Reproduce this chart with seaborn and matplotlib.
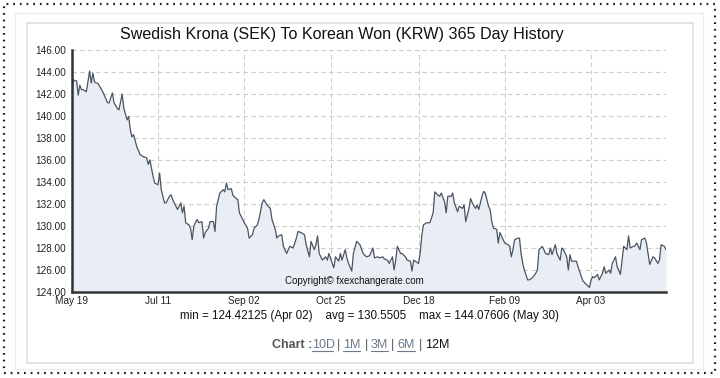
import matplotlib
matplotlib.use("Agg")
import matplotlib.pyplot as plt
from matplotlib.patches import Rectangle
from matplotlib.lines import Line2D
import pandas as pd
import seaborn as sns

# data (day offset from May 19, SEK->KRW rate)
start = "2018-05-19"
days = [0, 1, 2, 3, 4, 5, 6, 7, 9, 11, 12, 13, 14, 15, 16, 18, 20, 22, 23, 25,
        26, 28, 29, 31, 32, 34, 35, 36, 37, 38, 40, 42, 44, 46, 47, 48, 50, 51, 53, 54,
        55, 57, 58, 60, 61, 62, 64, 65, 67, 68, 69, 70, 72, 73, 74, 75, 77, 78, 80, 81,
        82, 84, 85, 87, 88, 89, 91, 93, 94, 95, 96, 98, 99, 101, 102, 103, 105, 106, 108, 109,
        111, 112, 114, 115, 117, 118, 120, 122, 123, 125, 126, 127, 129, 130, 132, 133, 134, 136, 138, 139,
        141, 143, 144, 146, 147, 149, 150, 151, 152, 154, 156, 157, 158, 160, 161, 162, 164, 165, 166, 168,
        169, 170, 172, 173, 175, 176, 177, 179, 181, 183, 185, 186, 188, 189, 191, 192, 194, 195, 197, 198,
        199, 200, 202, 203, 205, 206, 208, 209, 210, 211, 213, 214, 215, 216, 218, 219, 220, 222, 223, 225,
        226, 227, 229, 230, 231, 233, 234, 235, 237, 238, 240, 241, 242, 244, 245, 246, 248, 249, 250, 252,
        253, 254, 256, 257, 258, 259, 261, 262, 263, 265, 266, 268, 269, 270, 271, 272, 274, 275, 276, 277,
        278, 280, 281, 283, 285, 286, 287, 289, 290, 291, 293, 294, 295, 297, 298, 300, 301, 302, 304, 305,
        306, 307, 308, 310, 311, 313, 314, 316, 318, 319, 320, 321, 323, 324, 326, 327, 328, 330, 331, 332,
        334, 335, 337, 338, 339, 341, 342, 343, 345, 346, 347, 349, 350, 352, 353, 354, 355, 357, 358, 360,
        361, 362, 364, 365]
rates = [142.1, 143.3, 143.2, 143.2, 141.9, 142.8, 142.4, 142.4, 142.2, 144.08, 143.0, 143.9, 143.1, 143.0, 142.97, 142.5, 141.9, 141.2, 141.2, 142.1,
         141.2, 140.7, 140.55, 142.0, 140.7, 139.65, 139.95, 138.75, 138.1, 138.3, 137.2, 136.5, 136.3, 136.2, 135.6, 136.0, 134.5, 133.9, 133.75, 134.8,
         133.3, 132.1, 132.1, 132.7, 132.84, 132.4, 131.8, 131.5, 132.1, 131.2, 131.8, 130.3, 130.1, 129.8, 128.75, 130.0, 130.6, 130.3, 130.4, 128.9,
         129.4, 129.8, 130.4, 130.4, 129.5, 131.8, 133.0, 133.3, 133.1, 133.9, 133.3, 133.4, 132.8, 132.5, 132.4, 131.2, 130.6, 130.3, 129.8, 128.9,
         129.2, 129.8, 130.1, 130.6, 132.1, 132.4, 131.9, 131.6, 130.6, 129.7, 128.9, 129.1, 129.2, 128.15, 127.5, 127.85, 128.15, 128.0, 128.9, 129.5,
         129.4, 129.2, 128.3, 127.2, 128.6, 127.85, 128.3, 129.1, 127.5, 126.9, 127.2, 126.9, 127.5, 126.6, 126.2, 127.2, 126.8, 127.5, 126.9, 127.85,
         127.1, 126.6, 125.9, 127.5, 128.6, 128.45, 128.3, 127.5, 127.2, 127.3, 128.0, 127.1, 127.2, 127.1, 127.2, 127.0, 126.9, 126.6, 127.2, 126.0,
         126.9, 128.15, 127.5, 127.5, 127.2, 126.9, 126.8, 125.9, 126.9, 126.8, 126.6, 127.5, 129.1, 130.1, 130.3, 130.3, 130.3, 131.2, 133.1, 132.8,
         132.7, 133.0, 132.2, 131.2, 132.7, 132.7, 133.0, 132.1, 131.3, 131.8, 131.6, 131.9, 130.4, 131.6, 132.5, 132.1, 131.6, 131.9, 131.5, 132.7,
         133.14, 133.0, 131.8, 131.5, 130.4, 129.8, 129.7, 128.45, 129.4, 128.75, 128.45, 128.3, 128.15, 127.2, 127.85, 128.75, 128.9, 128.9, 127.5, 126.6,
         126.0, 125.1, 125.1, 125.3, 125.7, 126.0, 127.85, 128.15, 127.85, 127.5, 127.4, 128.0, 127.4, 128.3, 127.5, 126.9, 128.0, 127.85, 127.2, 126.0,
         127.4, 126.8, 126.8, 126.8, 126.3, 125.4, 125.0, 124.7, 124.42, 125.1, 125.4, 125.3, 125.6, 125.1, 125.7, 126.3, 125.7, 126.0, 125.7, 126.6,
         127.2, 126.3, 125.6, 126.9, 128.15, 127.85, 129.1, 128.0, 128.15, 128.2, 128.45, 127.85, 128.75, 128.9, 128.45, 127.5, 126.5, 127.2, 127.1, 126.6,
         126.9, 128.3, 128.15, 127.85]

tick_dates = ["2018-05-19", "2018-07-11", "2018-09-02", "2018-10-25",
              "2018-12-18", "2019-02-09", "2019-04-03"]
tick_labels = ["May 19", "Jul 11", "Sep 02", "Oct 25", "Dec 18", "Feb 09", "Apr 03"]
y_ticks = [124, 126, 128, 130, 132, 134, 136, 138, 140, 142, 144, 146]

title = "Swedish Krona (SEK) To Korean Won (KRW) 365 Day History"
stats = "min = 124.42125 (Apr 02)    avg = 130.5505    max = 144.07606 (May 30)"
links = ["10D", "1M", "3M", "6M"]

sns.set_style("white")
plt.rcParams["font.family"] = ["Liberation Sans", "DejaVu Sans"]

df = pd.DataFrame({
    "date": pd.Timestamp(start) + pd.to_timedelta(days, unit="D"),
    "rate": rates,
})

W, H = 720, 378
fig = plt.figure(figsize=(7.2, 3.78), dpi=100)


def px_rect(x0, y0, x1, y1, **kw):
    fig.add_artist(Rectangle((x0 / W, 1 - y1 / H), (x1 - x0) / W, (y1 - y0) / H,
                             transform=fig.transFigure, fill=False, **kw))


# page frame / panels
px_rect(4, 4, 715, 373, edgecolor="#222222", lw=1.6, linestyle=(0, (0.8, 2.2)))
px_rect(15, 13, 703, 369, edgecolor="#ececec", lw=1.0)
px_rect(27, 23, 693, 363, edgecolor="#dddddd", lw=1.2)

ax = fig.add_axes([71.7 / W, 1 - 292 / H, (666 - 71.7) / W, (292 - 50) / H])
ax.fill_between(df["date"], df["rate"], 124, color="#e9eef5", lw=0)
sns.lineplot(data=df, x="date", y="rate", color="#4a5460", lw=0.9, ax=ax)

ax.set_xlim(pd.Timestamp(start), pd.Timestamp(start) + pd.Timedelta(days=365))
ax.set_ylim(124, 146)
ax.set_yticks(y_ticks)
ax.set_yticklabels([f"{v:.2f}" for v in y_ticks], fontsize=7.2, color="#222222")
ax.set_xticks(pd.to_datetime(tick_dates))
ax.set_xticklabels(tick_labels, fontsize=7.2, color="#222222")
ax.set_xlabel("")
ax.set_ylabel("")
ax.grid(True, linestyle=(0, (4, 3)), color="#cccccc", lw=0.8)
ax.tick_params(axis="both", length=3, width=0.8, color="#333333", pad=1)
ax.tick_params(axis="x", pad=0)
for side in ["top", "right"]:
    ax.spines[side].set_visible(False)
for side in ["left", "bottom"]:
    ax.spines[side].set_color("#333333")
    ax.spines[side].set_linewidth(1.8)

ax.text(0.359, 0.025, "Copyright\u00a9 fxexchangerate.com", transform=ax.transAxes,
        fontsize=7, color="#111111", ha="left", va="bottom")

fig.text(342 / W, 1 - 35 / H, title, ha="center", va="center", fontsize=11.6, color="#111111")
fig.text(180 / W, 1 - 316 / H, stats, ha="left", va="center", fontsize=8.4, color="#111111")

# chart period links
yl = 1 - 345 / H
fig.text(272 / W, yl, "Chart :", ha="left", va="center", fontsize=9,
         fontweight="bold", color="#555555")
link_x = [312, 343, 371, 397]
link_w = [21, 17, 17, 18]
for lab, x, w in zip(links, link_x, link_w):
    fig.text(x / W, yl, lab, ha="left", va="center", fontsize=9, color="#6b7b8c")
    fig.add_artist(Line2D([x / W, (x + w) / W], [1 - 351 / H, 1 - 351 / H],
                          transform=fig.transFigure, color="#6b7b8c", lw=0.8))
for x in [338, 366, 393, 420]:
    fig.text(x / W, yl, "|", ha="center", va="center", fontsize=9, color="#555555")
fig.text(425 / W, yl, "12M", ha="left", va="center", fontsize=9, color="#111111")

fig.savefig("out.png", dpi=100)
plt.close(fig)
